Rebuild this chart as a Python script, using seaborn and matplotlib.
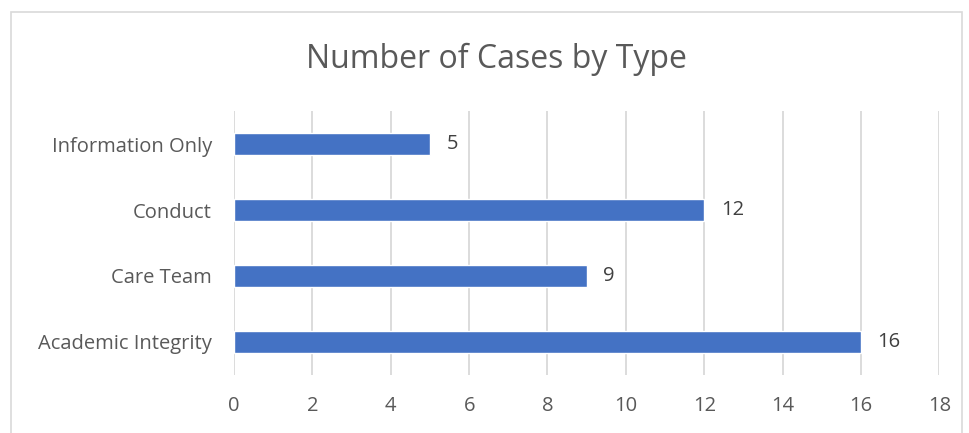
import pandas as pd
import matplotlib.pyplot as plt
import seaborn as sns
from matplotlib.patches import Rectangle

categories = ['Information Only', 'Conduct', 'Care Team', 'Academic Integrity']
cases = [5, 12, 9, 16]
x_ticks = [0, 2, 4, 6, 8, 10, 12, 14, 16, 18]

sns.set_theme(style='white')
plt.rcParams['font.family'] = ['Open Sans', 'DejaVu Sans']

df = pd.DataFrame({'type': categories, 'cases': cases})
text_color = '#595959'

fig = plt.figure(figsize=(9.69, 4.33), dpi=100)
ax = fig.add_axes([0.2415, 0.134, 0.9694 - 0.2415, 0.7436 - 0.134])

sns.barplot(data=df, y='type', x='cases', order=categories, color='#4472C4',
            width=0.33, saturation=1, ax=ax)

ax.bar_label(ax.containers[0], labels=[str(v) for v in cases], padding=12,
             fontsize=14.5, color='#404040')

ax.set_xlim(0, 18)
ax.set_xticks(x_ticks)
ax.xaxis.grid(True, color='#D9D9D9', linewidth=1.3)
ax.set_axisbelow(True)
for s in ax.spines.values():
    s.set_visible(False)
ax.tick_params(axis='both', length=0, labelsize=14.5, labelcolor=text_color)
ax.tick_params(axis='y', pad=16)
ax.tick_params(axis='x', pad=15)
ax.set_xlabel('')
ax.set_ylabel('')

fig.text(0.512, 0.862, 'Number of Cases by Type', ha='center', va='center',
         fontsize=23, color=text_color)

# outer chart border
fig.patches.append(Rectangle((11 / 969, -0.05), (962 - 11) / 969, 1.05 - 12 / 433,
                             transform=fig.transFigure, fill=False,
                             edgecolor='#D9D9D9', linewidth=1.2))

fig.savefig('out.png', dpi=100)
